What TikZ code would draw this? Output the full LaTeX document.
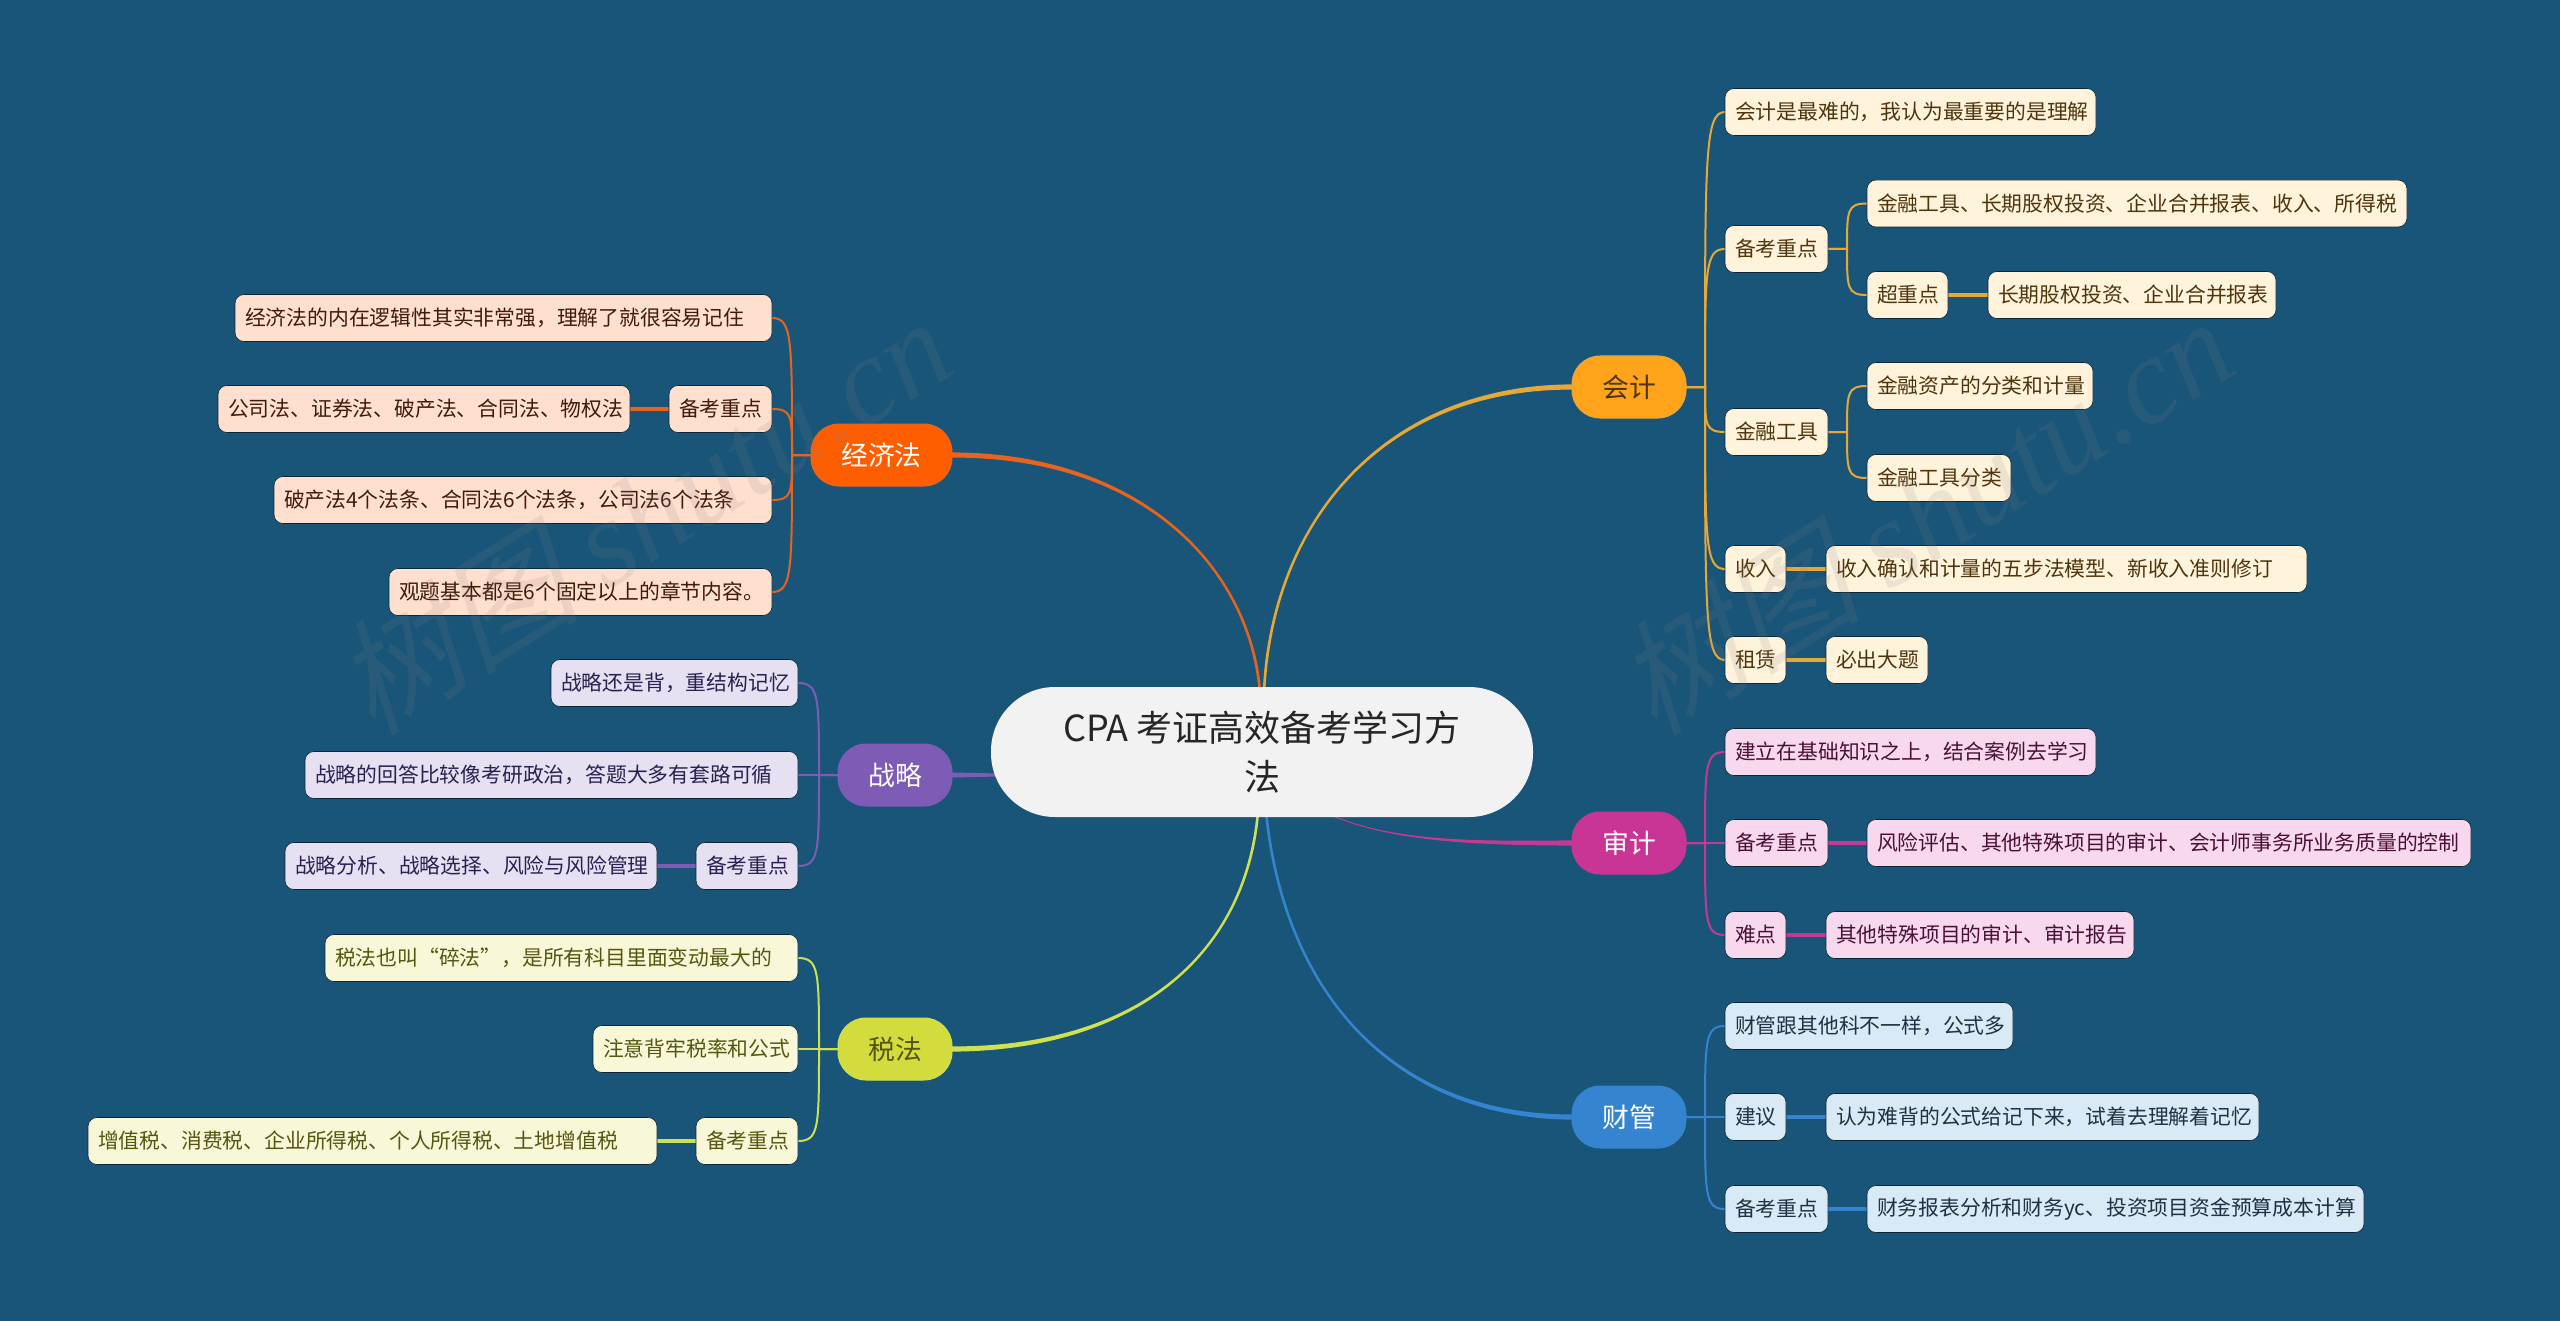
\documentclass[tikz,border=0pt]{standalone}
\usepackage{fontspec}
\setmainfont{Noto Sans CJK SC}
\newfontfamily\wmcjk[FakeSlant=0.25]{Noto Sans CJK SC}
\newfontfamily\wmlat{Liberation Serif}[ItalicFont={Liberation Serif Italic}]
\usetikzlibrary{calc,backgrounds}
\definecolor{bgC}{HTML}{195578}
\definecolor{kjC}{HTML}{FFA31A}\definecolor{kjL}{HTML}{E8A838}\definecolor{kjF}{HTML}{FFF3DC}\definecolor{kjT}{HTML}{4F350C}
\definecolor{jjC}{HTML}{FF5E00}\definecolor{jjL}{HTML}{E8641E}\definecolor{jjF}{HTML}{FFE0CF}\definecolor{jjT}{HTML}{401B0C}
\definecolor{zlC}{HTML}{7E5BB5}\definecolor{zlL}{HTML}{7E5BB5}\definecolor{zlF}{HTML}{E6E0F2}\definecolor{zlT}{HTML}{2B2050}
\definecolor{sfC}{HTML}{D3DC3C}\definecolor{sfL}{HTML}{CFE050}\definecolor{sfF}{HTML}{F8F8D8}\definecolor{sfT}{HTML}{55560F}
\definecolor{sjC}{HTML}{C93595}\definecolor{sjL}{HTML}{C23A92}\definecolor{sjF}{HTML}{F7D8EC}\definecolor{sjT}{HTML}{4B1038}
\definecolor{cgC}{HTML}{3584CF}\definecolor{cgL}{HTML}{3584CF}\definecolor{cgF}{HTML}{D9E9F5}\definecolor{cgT}{HTML}{1D3244}
\tikzset{
  box/.style={rectangle,rounded corners=4.5pt,outer sep=0pt,inner ysep=0pt,inner xsep=5pt,minimum height=23.5pt,font=\fontsize{10.4pt}{12pt}\selectfont,align=left,draw=black!55!bgC,line width=0.3pt},
  topic/.style n args={3}{rectangle,rounded corners=14pt,outer sep=0pt,inner sep=0pt,minimum width=57pt,minimum height=31pt,fill=#1,draw=#3,line width=0.5pt,text=#2,font=\fontsize{13.4pt}{16pt}\selectfont},
  rootbox/.style={rectangle,rounded corners=32pt,outer sep=0pt,inner sep=0pt,minimum width=271pt,minimum height=65pt,fill=black!5,text=black!85,align=center,font=\fontsize{18pt}{24.5pt}\selectfont},
  sub link/.style={draw=#1,line width=1pt},
  leaf link/.style={draw=#1,line width=1.6pt},
  wm/.style={black!50,opacity=0.14,rotate=32,font=\fontsize{62pt}{68pt}\selectfont}
}
% name, x1, x2, cy, colour prefix, text
\newcommand\leafbox[6]{\node[box,fill=#5F,text=#5T,minimum width={(#3-#2)*0.5pt},text width={(#3-#2-20)*0.5pt}] (#1) at ({(#2+#3)/2},#4) {#6};}
\newcommand\rlink[4][sub link]{\coordinate (busp) at ($(#3.east)+(19,0)$);
  \draw[#1=#2] (#3.east) -- (busp) .. controls ($(busp)!0.85!(busp |- #4.west)$) and (busp |- #4.west) .. (#4.west);}
\newcommand\llink[4][sub link]{\coordinate (busp) at ($(#3.west)+(-19,0)$);
  \draw[#1=#2] (#3.west) -- (busp) .. controls ($(busp)!0.85!(busp |- #4.east)$) and (busp |- #4.east) .. (#4.east);}
% tapered branch: colour, start, control 1, control 2, end, sign of the start offset, sign of the end offset
\newcommand\taper[7]{\fill[#1] ($(#2)+(#6*1.3,0)$) .. controls ($(#3)+(#6*1.6,0)$) and ($(#4)+(0,#7*2)$) .. ($(#5)+(0,#7*2.6)$)
   -- ($(#5)+(0,-#7*2.6)$) .. controls ($(#4)+(0,-#7*2)$) and ($(#3)+(-#6*1.6,0)$) .. ($(#2)+(-#6*1.3,0)$) -- cycle;}
\begin{document}
\begin{tikzpicture}[x=0.5pt,y=-0.5pt]
\useasboundingbox (0,0) rectangle (2560,1321);
\begin{scope}[on background layer]
\fill[bgC] (0,0) rectangle (2560,1321);
\end{scope}
% root and topics
\node[rootbox] (root) at (1262,752) {CPA 考证高效备考学习方\\法};
\node[topic={kjC}{kjT}{kjL}] (kj) at (1629,387) {会计};
\node[topic={jjC}{white}{jjL},minimum width=70.5pt] (jj) at (881.5,455) {经济法};
\node[topic={zlC}{white}{zlL}] (zl) at (895,775) {战略};
\node[topic={sfC}{sfT}{sfL}] (sf) at (895,1049) {税法};
\node[topic={sjC}{white}{sjL}] (sj) at (1629,843) {审计};
\node[topic={cgC}{white}{cgL}] (cg) at (1629,1117) {财管};
% 会计
\leafbox{k1}{1725}{2096}{112}{kj}{会计是最难的，我认为最重要的是理解}
\leafbox{k2}{1725}{1828}{249}{kj}{备考重点}
\leafbox{k21}{1867}{2407}{203.5}{kj}{金融工具、长期股权投资、企业合并报表、收入、所得税}
\leafbox{k22}{1867}{1948}{295}{kj}{超重点}
\leafbox{k221}{1988}{2276}{295}{kj}{长期股权投资、企业合并报表}
\leafbox{k3}{1725}{1828}{432}{kj}{金融工具}
\leafbox{k31}{1867}{2093}{386}{kj}{金融资产的分类和计量}
\leafbox{k32}{1867}{2011}{478}{kj}{金融工具分类}
\leafbox{k4}{1725}{1786}{569}{kj}{收入}
\leafbox{k41}{1826}{2307}{569}{kj}{收入确认和计量的五步法模型、新收入准则修订}
\leafbox{k5}{1725}{1786}{660}{kj}{租赁}
\leafbox{k51}{1826}{1928}{660}{kj}{必出大题}
% 经济法
\leafbox{j1}{235}{772}{318}{jj}{经济法的内在逻辑性其实非常强，理解了就很容易记住}
\leafbox{j2}{669}{772}{409}{jj}{备考重点}
\leafbox{j21}{218}{630}{409}{jj}{公司法、证券法、破产法、合同法、物权法}
\leafbox{j3}{274}{772}{500}{jj}{破产法4个法条、合同法6个法条，公司法6个法条}
\leafbox{j4}{389}{772}{592}{jj}{观题基本都是6个固定以上的章节内容。}
% 战略
\leafbox{z1}{551}{798}{683}{zl}{战略还是背，重结构记忆}
\leafbox{z2}{305}{798}{775}{zl}{战略的回答比较像考研政治，答题大多有套路可循}
\leafbox{z3}{696}{798}{866}{zl}{备考重点}
\leafbox{z31}{285}{657}{866}{zl}{战略分析、战略选择、风险与风险管理}
% 税法
\leafbox{s1}{325}{798}{958}{sf}{税法也叫“碎法”，是所有科目里面变动最大的}
\leafbox{s2}{593}{798}{1049}{sf}{注意背牢税率和公式}
\leafbox{s3}{696}{798}{1141}{sf}{备考重点}
\leafbox{s31}{88}{657}{1141}{sf}{增值税、消费税、企业所得税、个人所得税、土地增值税}
% 审计
\leafbox{a1}{1725}{2096}{752}{sj}{建立在基础知识之上，结合案例去学习}
\leafbox{a2}{1725}{1828}{843}{sj}{备考重点}
\leafbox{a21}{1867}{2471}{843}{sj}{风险评估、其他特殊项目的审计、会计师事务所业务质量的控制}
\leafbox{a3}{1725}{1786}{935}{sj}{难点}
\leafbox{a31}{1826}{2134}{935}{sj}{其他特殊项目的审计、审计报告}
% 财管
\leafbox{c1}{1725}{2013}{1026}{cg}{财管跟其他科不一样，公式多}
\leafbox{c2}{1725}{1786}{1117}{cg}{建议}
\leafbox{c21}{1826}{2259}{1117}{cg}{认为难背的公式给记下来，试着去理解着记忆}
\leafbox{c3}{1725}{1828}{1209}{cg}{备考重点}
\leafbox{c31}{1867}{2364}{1209}{cg}{财务报表分析和财务yc、投资项目资金预算成本计算}
\coordinate (kjstart) at (1264,692);
\coordinate (jjstart) at (1260,692);
\coordinate (zlstart) at (1000,775);
\coordinate (auditstart) at (1324,812);
\coordinate (taxstart) at (1258,812);
\coordinate (finstart) at (1266,812);
\coordinate (kjA) at (1272,520);\coordinate (kjB) at (1385,387);
\coordinate (jjA) at (1250,570);\coordinate (jjB) at (1145,455);
\coordinate (sfA) at (1245,960);\coordinate (sfB) at (1130,1049);
\coordinate (sjA) at (1390,843);\coordinate (sjB) at (1480,843);
\coordinate (cgA) at (1285,1000);\coordinate (cgB) at (1400,1117);
\begin{scope}[on background layer]
\taper{kjL}{kjstart}{kjA}{kjB}{kj.west}{-1}{-1}
\taper{jjL}{jjstart}{jjA}{jjB}{jj.east}{1}{-1}
\fill[zlL] ($(zlstart)+(0,-1.5)$) -- ($(zl.east)+(0,-2.5)$) -- ($(zl.east)+(0,2.5)$) -- ($(zlstart)+(0,1.5)$) -- cycle;
\taper{sfL}{taxstart}{sfA}{sfB}{sf.east}{1}{1}
\taper{sjL}{auditstart}{sjA}{sjB}{sj.west}{-1}{1}
\taper{cgL}{finstart}{cgA}{cgB}{cg.west}{-1}{1}
\rlink{kjL}{kj}{k1}\rlink{kjL}{kj}{k2}\rlink{kjL}{kj}{k3}\rlink{kjL}{kj}{k4}\rlink{kjL}{kj}{k5}
\rlink{kjL}{k2}{k21}\rlink{kjL}{k2}{k22}\rlink{kjL}{k3}{k31}\rlink{kjL}{k3}{k32}
\draw[leaf link=kjL] (k22.east) -- (k221.west);
\draw[leaf link=kjL] (k4.east) -- (k41.west);
\draw[leaf link=kjL] (k5.east) -- (k51.west);
\llink{jjL}{jj}{j1}\llink{jjL}{jj}{j2}\llink{jjL}{jj}{j3}\llink{jjL}{jj}{j4}
\draw[leaf link=jjL] (j2.west) -- (j21.east);
\llink{zlL}{zl}{z1}\llink{zlL}{zl}{z2}\llink{zlL}{zl}{z3}
\draw[leaf link=zlL] (z3.west) -- (z31.east);
\llink{sfL}{sf}{s1}\llink{sfL}{sf}{s2}\llink{sfL}{sf}{s3}
\draw[leaf link=sfL] (s3.west) -- (s31.east);
\rlink{sjL}{sj}{a1}\rlink{sjL}{sj}{a2}\rlink{sjL}{sj}{a3}
\draw[leaf link=sjL] (a2.east) -- (a21.west);
\draw[leaf link=sjL] (a3.east) -- (a31.west);
\rlink{cgL}{cg}{c1}\rlink{cgL}{cg}{c2}\rlink{cgL}{cg}{c3}
\draw[leaf link=cgL] (c2.east) -- (c21.west);
\draw[leaf link=cgL] (c3.east) -- (c31.west);
\end{scope}
% watermarks
\node[wm] (wm1) at (641,514) {{\wmcjk 树图} {\wmlat\itshape shutu.cn}};
\node[wm] (wm2) at (1923,514) {{\wmcjk 树图} {\wmlat\itshape shutu.cn}};
\end{tikzpicture}
\end{document}
